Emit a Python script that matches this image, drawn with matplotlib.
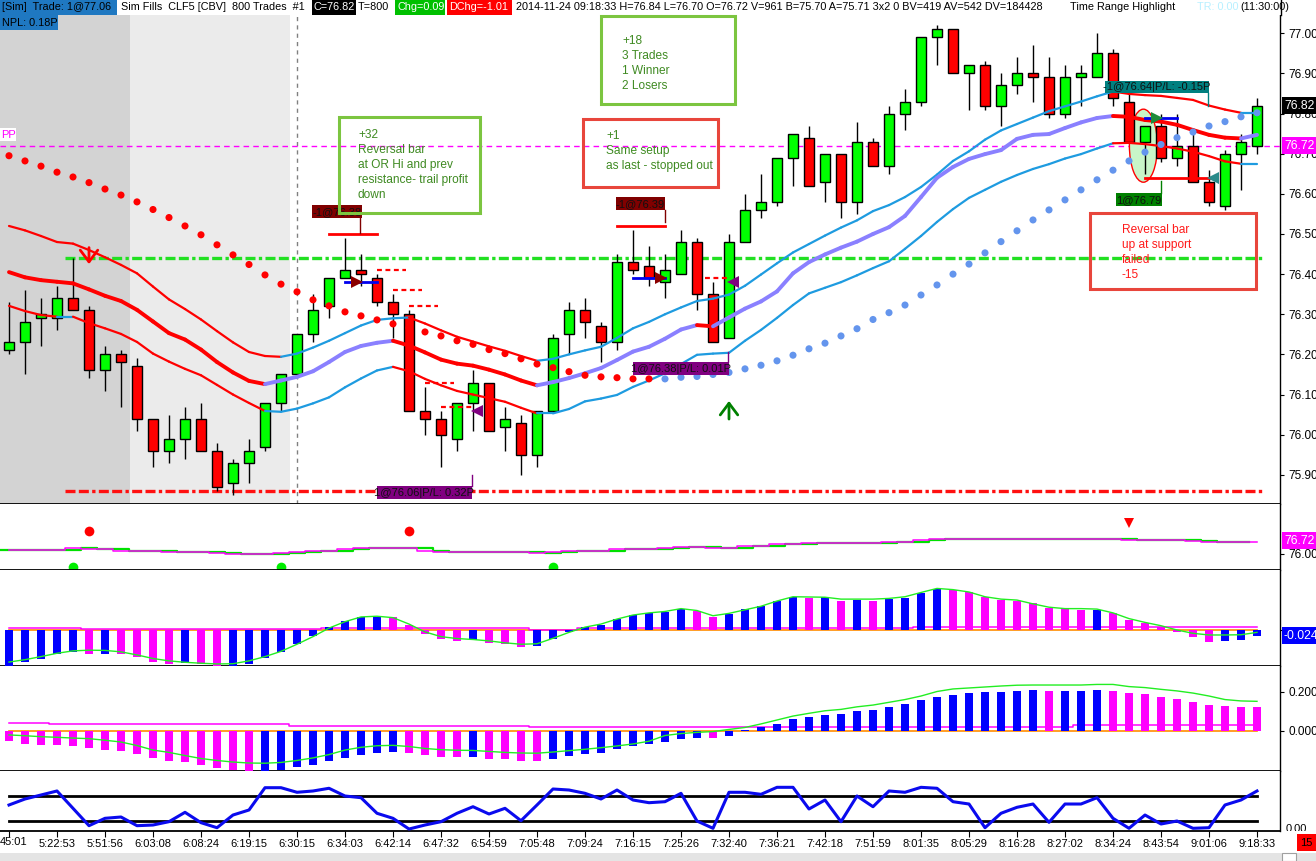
import matplotlib
matplotlib.use("Agg")
import matplotlib.pyplot as plt
from matplotlib.patches import Rectangle, Ellipse
from matplotlib.collections import LineCollection
from matplotlib.lines import Line2D
import matplotlib.transforms as mtransforms

plt.rcParams['font.family'] = ['Liberation Sans', 'DejaVu Sans']

# ---------------- DATA ----------------
opens = [76.21,76.23,76.29,76.29,76.34,76.31,76.16,76.20,76.17,76.04,
         75.96,75.99,76.04,75.96,75.88,75.93,75.97,76.08,76.15,76.25,
         76.32,76.39,76.41,76.39,76.33,76.30,76.06,76.04,75.99,76.08,
         76.13,76.02,76.03,75.95,76.06,76.25,76.31,76.27,76.23,76.43,
         76.42,76.38,76.40,76.48,76.35,76.24,76.48,76.56,76.58,76.69,
         76.74,76.63,76.70,76.58,76.73,76.67,76.80,76.83,76.99,77.01,
         76.90,76.92,76.82,76.87,76.90,76.89,76.80,76.89,76.89,76.95,
         76.83,76.73,76.77,76.69,76.72,76.63,76.57,76.70,76.72]
highs = [76.33,76.36,76.34,76.37,76.44,76.32,76.22,76.21,76.19,76.04,
         76.05,76.07,76.08,75.98,75.94,75.99,76.08,76.15,76.25,76.35,
         76.39,76.49,76.45,76.40,76.35,76.31,76.12,76.06,76.08,76.16,
         76.13,76.07,76.05,76.06,76.25,76.33,76.34,76.28,76.45,76.51,
         76.47,76.45,76.51,76.49,76.38,76.50,76.60,76.65,76.69,76.75,
         76.77,76.70,76.70,76.78,76.74,76.82,76.86,76.99,77.02,77.01,
         76.92,76.93,76.90,76.94,76.97,76.94,76.92,76.92,77.00,76.96,
         76.85,76.77,76.80,76.80,76.76,76.66,76.71,76.75,76.84]
lows = [76.20,76.15,76.22,76.26,76.31,76.14,76.11,76.07,76.01,75.92,
        75.93,75.94,75.96,75.86,75.85,75.88,75.96,76.06,76.15,76.23,
        76.29,76.39,76.37,76.32,76.24,76.06,76.00,75.92,75.96,76.01,
        76.01,75.96,75.90,75.92,76.06,76.20,76.24,76.18,76.21,76.40,
        76.37,76.34,76.40,76.31,76.23,76.24,76.48,76.54,76.57,76.62,
        76.62,76.58,76.54,76.55,76.67,76.65,76.76,76.82,76.92,76.90,
        76.81,76.81,76.77,76.85,76.83,76.79,76.79,76.82,76.89,76.82,
        76.73,76.65,76.68,76.67,76.63,76.57,76.56,76.61,76.70]
closes = [76.23,76.28,76.30,76.34,76.31,76.16,76.20,76.18,76.04,75.96,
          75.99,76.04,75.96,75.87,75.93,75.96,76.08,76.15,76.25,76.31,
          76.39,76.41,76.40,76.33,76.30,76.06,76.04,76.00,76.08,76.13,
          76.01,76.04,75.95,76.06,76.24,76.31,76.28,76.23,76.43,76.41,
          76.39,76.41,76.48,76.35,76.23,76.48,76.56,76.58,76.69,76.75,
          76.62,76.70,76.58,76.73,76.67,76.80,76.83,76.99,77.01,76.90,
          76.92,76.82,76.87,76.90,76.89,76.80,76.89,76.90,76.95,76.84,
          76.73,76.77,76.69,76.72,76.63,76.58,76.70,76.73,76.82]

first_time_label = "45:01"
time_labels = ["", "5:22:53","5:51:56","6:03:08","6:08:24","6:19:15","6:30:15",
               "6:34:03","6:42:14","6:47:32","6:54:59","7:05:48","7:09:24","7:16:15",
               "7:25:26","7:32:40","7:36:21","7:42:18","7:51:59","8:01:35","8:05:29",
               "8:16:28","8:27:02","8:34:24","8:43:54","9:01:06","9:18:33"]
price_ticks = [75.90,76.00,76.10,76.20,76.30,76.40,76.50,76.60,76.70,76.80,76.90,77.00]

band_upper = [76.520,76.509,76.495,76.480,76.476,76.460,76.442,76.423,76.402,76.369,
              76.337,76.313,76.287,76.258,76.230,76.206,76.196,76.194,76.202,76.217,
              76.234,76.253,76.272,76.286,76.290,76.292,76.277,76.260,76.244,76.232,
              76.220,76.209,76.196,76.184,76.189,76.200,76.210,76.219,76.241,76.265,
              76.281,76.300,76.317,76.333,76.339,76.349,76.371,76.399,76.427,76.454,
              76.475,76.496,76.516,76.534,76.557,76.572,76.592,76.617,76.648,76.682,
              76.706,76.735,76.758,76.774,76.790,76.806,76.818,76.830,76.843,76.855,
              76.849,76.846,76.844,76.839,76.834,76.820,76.810,76.802,76.802]
band_mid = [76.405,76.392,76.385,76.381,76.377,76.362,76.346,76.333,76.311,76.282,
            76.253,76.237,76.212,76.181,76.155,76.134,76.126,76.135,76.144,76.158,
            76.181,76.206,76.221,76.229,76.234,76.222,76.205,76.187,76.177,76.172,
            76.162,76.150,76.135,76.123,76.131,76.141,76.153,76.166,76.186,76.207,
            76.219,76.239,76.262,76.273,76.270,76.292,76.314,76.332,76.357,76.402,
            76.430,76.449,76.466,76.481,76.500,76.517,76.545,76.592,76.640,76.667,
            76.687,76.699,76.709,76.737,76.747,76.749,76.764,76.778,76.789,76.794,
            76.792,76.784,76.780,76.772,76.759,76.747,76.740,76.738,76.747]
band_lower = [76.321,76.308,76.298,76.294,76.294,76.278,76.265,76.251,76.231,76.202,
              76.182,76.164,76.148,76.124,76.100,76.079,76.059,76.057,76.065,76.078,
              76.093,76.118,76.140,76.160,76.169,76.158,76.139,76.123,76.109,76.100,
              76.091,76.082,76.067,76.053,76.053,76.064,76.083,76.090,76.099,76.119,
              76.135,76.153,76.176,76.199,76.202,76.204,76.234,76.261,76.291,76.323,
              76.352,76.366,76.380,76.397,76.415,76.432,76.463,76.495,76.530,76.562,
              76.590,76.610,76.630,76.647,76.662,76.674,76.688,76.699,76.713,76.726,
              76.727,76.724,76.719,76.713,76.705,76.694,76.681,76.675,76.675]
trend_upper = "d"*17 + "u"*8 + "d"*8 + "u"*36 + "d"*8 + "u"
trend_mid = "d"*16 + "u"*8 + "d"*9 + "u"*10 + "d" + "u"*25 + "d"*8 + "u"
trend_lower = "d"*3 + "u" + "d"*12 + "u"*8 + "d"*9 + "u"*36 + "d"*8 + "u"

sar = [76.695,76.682,76.669,76.654,76.642,76.628,76.612,76.597,76.580,76.561,
       76.541,76.520,76.498,76.473,76.448,76.424,76.398,76.375,76.356,76.336,
       76.321,76.306,76.296,76.286,76.276,76.266,76.256,76.246,76.234,76.225,
       76.212,76.202,76.189,76.176,76.167,76.157,76.148,76.144,76.142,76.139,
       76.139,76.139,76.143,76.145,76.150,76.155,76.164,76.173,76.184,76.198,
       76.214,76.228,76.246,76.264,76.287,76.304,76.323,76.348,76.373,76.400,
       76.425,76.453,76.481,76.508,76.535,76.560,76.585,76.610,76.635,76.659,
       76.682,76.704,76.723,76.740,76.754,76.769,76.780,76.792,76.802]
sar_side = "d"*41 + "u"*38

pp_level = 76.72
or_high = 76.44
or_low = 75.86
or_start, or_end = 3.5, 78.4
last_price = 76.82

# trades
entry_idx = [22, 41, 72]
entry_price = [76.38, 76.39, 76.79]
entry_line_from = [21, 39, 71]
entry_line_to = [23, 41, 73]
entry_color = ['#8b0000', '#8b0000', '#1f8a3a']
exit_idx = [29, 45, 75]
exit_price = [76.06, 76.38, 76.64]
exit_color = ['#800080', '#800080', '#2a8a8a']
stop_price = [76.50, 76.52, 76.64]
stop_from = [20, 38, 71]
stop_to = [23, 41, 75]
trail_from = [23, 24, 25, 26, 27, 43.5]
trail_to = [24.8, 25.8, 26.8, 27.8, 29.0, 44.9]
trail_price = [76.41, 76.36, 76.32, 76.13, 76.07, 76.39]
signal_idx = [5, 45]
signal_tail = [76.473, 76.032]
signal_head = [76.418, 76.091]
signal_color = ['red', '#008000']

# panel 2
p2_line = [76.24,76.24,76.24,76.24,76.31,76.25,76.25,76.18,76.18,76.14,
           76.09,76.09,76.09,76.04,75.98,75.98,76.01,76.04,76.12,76.18,
           76.18,76.27,76.34,76.34,76.34,76.30,76.18,76.12,76.12,76.12,
           76.09,76.09,76.09,76.04,76.09,76.18,76.18,76.18,76.29,76.29,
           76.29,76.32,76.40,76.40,76.35,76.35,76.42,76.42,76.52,76.52,
           76.61,76.61,76.61,76.61,76.61,76.67,76.67,76.76,76.83,76.83,
           76.83,76.83,76.83,76.83,76.83,76.83,76.83,76.83,76.83,76.83,
           76.77,76.74,76.74,76.74,76.70,76.66,76.66,76.66,76.66]
p2_red_dots = [5, 25]
p2_red_level = 77.24
p2_green_dots = [4, 17, 34]
p2_green_level = 75.30
p2_triangles = [70]
p2_tri_level = 77.69

# panel 3
h3 = [-0.150,-0.135,-0.122,-0.100,-0.093,-0.101,-0.101,-0.101,-0.112,-0.135,
      -0.143,-0.139,-0.143,-0.150,-0.150,-0.143,-0.117,-0.093,-0.059,-0.025,
      0.014,0.039,0.056,0.056,0.053,0.021,-0.016,-0.038,-0.046,-0.042,
      -0.053,-0.058,-0.070,-0.067,-0.038,-0.010,0.014,0.022,0.048,0.063,
      0.072,0.077,0.090,0.080,0.056,0.069,0.088,0.101,0.122,0.139,
      0.136,0.140,0.123,0.128,0.123,0.132,0.136,0.156,0.173,0.167,
      0.161,0.139,0.128,0.123,0.115,0.094,0.088,0.085,0.085,0.072,
      0.042,0.029,0.013,-0.007,-0.028,-0.051,-0.045,-0.041,-0.024]
h3_col = ("b"*5 + "m" + "b" + "m"*4 + "b" + "m"*2 + "b"*10 + "m"*5 + "b" + "m"*3 +
          "b"*10 + "m"*2 + "b"*5 + "mbmbm" + "b"*4 + "m"*9 + "b" + "m"*7 + "b"*3)
g3 = [-0.135,-0.125,-0.112,-0.098,-0.088,-0.085,-0.086,-0.092,-0.105,-0.120,
      -0.130,-0.136,-0.140,-0.143,-0.142,-0.130,-0.112,-0.090,-0.060,-0.028,
      0.008,0.035,0.055,0.058,0.052,0.025,-0.008,-0.028,-0.036,-0.040,
      -0.046,-0.054,-0.060,-0.058,-0.035,-0.010,0.012,0.025,0.046,0.063,
      0.072,0.078,0.090,0.082,0.060,0.070,0.085,0.100,0.122,0.140,
      0.139,0.138,0.130,0.130,0.130,0.133,0.140,0.158,0.175,0.170,
      0.160,0.140,0.130,0.126,0.110,0.096,0.090,0.090,0.088,0.072,
      0.048,0.032,0.018,0.000,-0.014,-0.021,-0.021,-0.020,-0.010]
s3 = [0.010]*5 + [0.005]*15 + [0.008]*13 + [0.001]*3 + [0.007]*5 + [0.008]*16 + [0.011]*22

# panel 4
h4 = [-0.053,-0.064,-0.070,-0.070,-0.075,-0.085,-0.095,-0.100,-0.116,-0.136,
      -0.151,-0.156,-0.171,-0.187,-0.197,-0.204,-0.204,-0.197,-0.182,-0.171,
      -0.151,-0.136,-0.121,-0.110,-0.105,-0.110,-0.121,-0.131,-0.131,-0.131,
      -0.141,-0.141,-0.151,-0.151,-0.141,-0.126,-0.116,-0.110,-0.090,-0.075,
      -0.064,-0.054,-0.039,-0.034,-0.034,-0.024,0.005,0.020,0.036,0.061,
      0.071,0.081,0.087,0.102,0.107,0.122,0.137,0.158,0.173,0.183,
      0.193,0.198,0.198,0.204,0.209,0.204,0.204,0.204,0.209,0.204,
      0.193,0.188,0.173,0.163,0.148,0.132,0.127,0.122,0.122]
h4_col = "m"*16 + "b"*9 + "m"*4 + "b" + "m"*4 + "b"*10 + "m" + "b"*20 + "m" + "b"*3 + "m"*10
g4 = [-0.020,-0.024,-0.029,-0.032,-0.036,-0.039,-0.047,-0.056,-0.074,-0.097,
      -0.109,-0.125,-0.140,-0.150,-0.158,-0.163,-0.164,-0.160,-0.150,-0.137,
      -0.120,-0.097,-0.083,-0.075,-0.073,-0.079,-0.089,-0.095,-0.098,-0.099,
      -0.104,-0.109,-0.112,-0.113,-0.107,-0.100,-0.093,-0.085,-0.076,-0.066,
      -0.052,-0.023,-0.013,-0.007,-0.003,0.008,0.018,0.036,0.056,0.076,
      0.090,0.103,0.110,0.123,0.132,0.146,0.160,0.178,0.201,0.214,
      0.219,0.224,0.229,0.233,0.234,0.234,0.234,0.234,0.237,0.237,
      0.226,0.221,0.212,0.204,0.193,0.178,0.160,0.153,0.151]
s4 = [0.041]*3 + [0.034]*15 + [0.027]*15 + [0.022]*34 + [0.030]*12

# panel 5
osc = [57.9,72.1,81.6,91.1,50.0,8.8,26.3,29.4,8.8,10.4,
       18.3,40.5,15.9,4.0,34.1,46.0,98.9,98.9,88.0,91.1,
       97.5,79.2,75.2,38.2,26.3,0.9,10.4,18.3,38.2,53.8,
       36.5,50.0,20.6,57.9,95.8,93.4,85.6,72.1,93.4,69.7,
       63.3,65.7,85.6,19.9,2.6,88.0,88.0,83.2,99.8,99.8,
       48.4,69.7,18.3,79.2,53.8,91.1,88.0,99.8,97.5,65.7,
       60.2,4.0,38.2,52.4,60.2,16.8,60.2,60.2,75.2,26.3,
       2.6,34.1,12.8,19.9,2.6,4.0,57.9,69.7,91.1]
osc_levels = [80, 20]

# ---------------- FIGURE ----------------
W, H = 1316, 861
fig = plt.figure(figsize=(W / 100, H / 100), dpi=100)
fig.patch.set_facecolor('white')

def fx(px): return px / W
def fy(py): return 1 - py / H

XMIN, XMAX = -0.5625, 79.4375
n = len(closes)
xs = list(range(n))
BLUE, MAG = '#0000ff', '#ff00ff'
FS = 8
TFS = 8.5

def panel(top, bottom):
    ax = fig.add_axes([0, fy(bottom), 1280 / W, (bottom - top) / H])
    ax.set_xlim(XMIN, XMAX)
    ax.set_facecolor('white')
    for s in ('left', 'top'):
        ax.spines[s].set_visible(False)
    ax.spines['right'].set_linewidth(1.0)
    ax.spines['bottom'].set_linewidth(1.3)
    ax.yaxis.tick_right()
    ax.tick_params(axis='y', direction='out', length=3, labelsize=TFS, pad=3)
    ax.tick_params(axis='x', bottom=False, labelbottom=False)
    return ax

def right_box(ax, y, text, fc, tc='white'):
    tr = mtransforms.blended_transform_factory(fig.transFigure, ax.transData)
    ax.text(fx(1284), y, text, transform=tr, ha='left', va='center', fontsize=TFS + 0.3,
            color=tc, clip_on=False, zorder=20,
            bbox=dict(boxstyle='square,pad=0.18', fc=fc, ec='none'))

# ---- main panel ----
ax = panel(15, 504)
ax.set_ylim(75.8273, 77.0456)
ax.set_yticks(price_ticks)
ax.set_yticklabels(['%.2f' % v for v in price_ticks])
ax.axvspan(XMIN, 7.5625, color='#d3d3d3', lw=0, zorder=0)
ax.axvspan(7.5625, 17.5625, color='#ebebeb', lw=0, zorder=0)
ax.axvline(18, color='#808080', lw=1, ls=(0, (3, 3)), zorder=1)
ax.axhline(pp_level, color='#ff00ff', lw=1, ls=(0, (4, 3)), zorder=2)
ax.plot([or_start, or_end], [or_high, or_high], color='#22e022', lw=2.4,
        ls=(0, (3, 1, 3, 1, 1, 1)), zorder=2)
ax.plot([or_start, or_end], [or_low, or_low], color='#ff1010', lw=2.4,
        ls=(0, (3, 1, 3, 1, 1, 1)), zorder=2)

# highlight ellipse
ax.add_patch(Ellipse((70.9, 76.72), 1.75, 0.182, fc='#c8f5c8', ec='red', lw=1, zorder=3))

# candles
for i in range(n):
    col = '#00ff00' if closes[i] >= opens[i] else '#ff0000'
    lo_b, hi_b = min(opens[i], closes[i]), max(opens[i], closes[i])
    ax.vlines(i, lows[i], highs[i], color='black', lw=1, zorder=5)
    ax.bar(i, max(hi_b - lo_b, 0.002), bottom=lo_b, width=0.6, color=col,
           edgecolor='black', linewidth=1, zorder=6)

# bands
def band(vals, trend, up_col, lw):
    segs = [[(k, vals[k]), (k + 1, vals[k + 1])] for k in range(n - 1)]
    cols = [up_col if t == 'u' else '#ff0000' for t in trend]
    ax.add_collection(LineCollection(segs, colors=cols, linewidths=lw, zorder=7,
                                     capstyle='round'))
band(band_upper, trend_upper, '#1e9be0', 1.6)
band(band_lower, trend_lower, '#1e9be0', 1.6)
band(band_mid, trend_mid, '#8a80ff', 2.8)

# SAR dots
sar_cols = ['#ff0000' if s == 'd' else '#6495ed' for s in sar_side]
ax.scatter(xs, sar, s=26, c=sar_cols, zorder=8, linewidths=0)

# trade lines / markers
for k in range(len(entry_idx)):
    ax.plot([stop_from[k], stop_to[k]], [stop_price[k]] * 2, color='#ff0000', lw=2, zorder=9)
    ax.plot([entry_line_from[k], entry_line_to[k]], [entry_price[k]] * 2, color='#0000ee',
            lw=2, zorder=9)
    ax.plot(entry_idx[k] - 0.22, entry_price[k], marker='>', ms=8, color=entry_color[k],
            zorder=10, mew=0)
    ax.plot(exit_idx[k] + 0.22, exit_price[k], marker='<', ms=8, color=exit_color[k],
            zorder=10, mew=0)
for a, b, p in zip(trail_from, trail_to, trail_price):
    ax.plot([a, b], [p, p], color='#ff0000', lw=1.6, ls=(0, (2.2, 1.6)), zorder=9)
for i, t, h, c in zip(signal_idx, signal_tail, signal_head, signal_color):
    ax.annotate('', xy=(i, h), xytext=(i, t),
                arrowprops=dict(arrowstyle='->,head_width=0.45,head_length=0.6',
                                color=c, lw=2, mutation_scale=14), zorder=10)

right_box(ax, pp_level, '%.2f' % pp_level, '#ff00ff')
right_box(ax, last_price, '%.2f' % last_price, 'black')

# ---- panel 2 ----
ax2 = panel(504, 570)
ax2.set_ylim(75.135, 78.703)
ax2.set_yticks([76.0])
ax2.set_yticklabels(['76.00'])
p2_prev = [p2_line[0]] + p2_line[:-1]
ax2.plot([x - 0.5 for x in xs], p2_prev, drawstyle='steps-post', color='#00e000', lw=1.6)
ax2.plot(xs, p2_line, drawstyle='steps-mid', color='#ff00ff', lw=1.1)
ax2.plot(p2_red_dots, [p2_red_level] * len(p2_red_dots), 'o', color='#ff0000', ms=7, mew=0)
ax2.plot(p2_green_dots, [p2_green_level] * len(p2_green_dots), 'o', color='#00ee00', ms=7, mew=0)
ax2.plot(p2_triangles, [p2_tri_level] * len(p2_triangles), 'v', color='#ff0000', ms=7, mew=0)
right_box(ax2, pp_level, '%.2f' % pp_level, '#ff00ff')

# ---- panel 3 ----
ax3 = panel(570, 666)
ax3.set_ylim(-0.1516, 0.2526)
ax3.set_yticks([0.0])
ax3.set_yticklabels([''])
ax3.plot([0, n - 1], [0, 0], color='#ff8c00', lw=1.2, zorder=2)
ax3.plot(xs, s3, drawstyle='steps-mid', color='#ff00ff', lw=1.1, zorder=2)
ax3.bar(xs, h3, width=0.5, color=[BLUE if c == 'b' else MAG for c in h3_col], zorder=3)
ax3.plot(xs, g3, color='#22ee22', lw=1, zorder=4)
right_box(ax3, h3[-1], '%.3f' % h3[-1], '#0000ff')

# ---- panel 4 ----
ax4 = panel(666, 771)
ax4.set_ylim(-0.2036, 0.3308)
ax4.set_yticks([0.0, 0.2])
ax4.set_yticklabels(['0.000', '0.200'])
ax4.plot([0, n - 1], [0, 0], color='#ff8c00', lw=1.2, zorder=2)
ax4.plot(xs, s4, drawstyle='steps-mid', color='#ff00ff', lw=1.1, zorder=2)
ax4.bar(xs, h4, width=0.5, color=[BLUE if c == 'b' else MAG for c in h4_col], zorder=3)
ax4.plot(xs, g4, color='#22ee22', lw=1, zorder=4)

# ---- panel 5 ----
ax5 = panel(771, 831)
ax5.set_ylim(-3.8, 138.5)
ax5.set_yticks([])
for lv in osc_levels:
    ax5.plot([0, n - 1], [lv, lv], color='black', lw=2, zorder=2)
ax5.plot(xs, osc, color='#0a0aee', lw=2.2, zorder=3)
ax5.set_xticks(list(range(0, n, 3)))
ax5.set_xticklabels(time_labels)
ax5.tick_params(axis='x', bottom=True, labelbottom=True, length=4, labelsize=FS, pad=2)
t0 = fig.text(fx(1286), fy(829), '0.00', fontsize=FS, va='center', ha='left')
t0.set_clip_box(mtransforms.TransformedBbox(
    mtransforms.Bbox([[fx(1281), fy(831)], [1, fy(771)]]), fig.transFigure))
t0.set_clip_on(True)

# ---------------- FIGURE-LEVEL DECORATION ----------------
def frect(x0, y0, x1, y1, z=5, **kw):
    fig.add_artist(Rectangle((fx(x0), fy(y1)), (x1 - x0) / W, (y1 - y0) / H,
                             transform=fig.transFigure, zorder=z, **kw))

def ftext(x, y, s, z=6, **kw):
    kw.setdefault('fontsize', FS)
    kw.setdefault('va', 'center')
    fig.text(fx(x), fy(y), s, zorder=z, **kw)

def fline(xs_, ys_, z=5, **kw):
    fig.add_artist(Line2D([fx(v) for v in xs_], [fy(v) for v in ys_],
                          transform=fig.transFigure, zorder=z, **kw))

# first (clipped) time label
ftext(0, 842, first_time_label, ha='left')

# header
HFS = 7.8
frect(0, 0, 1316, 15, z=4, fc='white', ec='none')
frect(0, 0, 117, 15, fc='#1f78c1', ec='none')
ftext(2, 7.5, '[Sim]  Trade: 1@77.06', fontsize=HFS)
ftext(121, 7.5, 'Sim Fills  CLF5 [CBV]  800 Trades  #1', fontsize=HFS)
frect(312, 0, 356, 15, fc='black', ec='none')
ftext(313, 7.5, 'C=76.82', color='white', fontsize=HFS)
ftext(358, 7.5, 'T=800', fontsize=HFS)
frect(395, 0, 445, 15, fc='#00c000', ec='none')
ftext(397, 7.5, 'Chg=0.09', color='white', fontsize=HFS)
frect(447, 0, 512, 15, fc='#ff0000', ec='none')
ftext(449, 7.5, 'DChg=-1.01', color='white', fontsize=HFS)
ftext(516, 7.5, '2014-11-24 09:18:33 H=76.84 L=76.70 O=76.72 V=961 B=75.70 A=75.71 '
      '3x2 0 BV=419 AV=542 DV=184428', fontsize=HFS)
ftext(1070, 7.5, 'Time Range Highlight', fontsize=HFS)
ftext(1197, 7.5, 'TR: 0.00', color='#b8f0ff', fontsize=HFS)
ftext(1240, 7.5, '(11:30:00)', fontsize=HFS)
frect(0, 15, 58, 30, fc='#1f78c1', ec='none')
ftext(2, 22.5, 'NPL: 0.18P', fontsize=HFS)
fline([1281, 1281], [0, 15], color='black', lw=1)

# PP label
frect(0, 128, 16, 141, fc='white', ec='none')
ftext(1, 134.5, 'PP', color='#ff00ff')

# trade labels
def tlabel(x0, y0, x1, y1, s, fc, stem):
    frect(x0, y0, x1, y1, z=7, fc=fc, ec='none')
    ftext((x0 + x1) / 2, (y0 + y1) / 2 + 0.5, s, z=8, ha='center', color='#101010')
    fline([stem[0], stem[0]], [stem[1], stem[2]], z=7, color=fc, lw=1)

tlabel(312, 205, 362, 218, '-1@76.38', '#800000', (360, 218, 233))
tlabel(377, 486, 472, 499, '1@76.06|P/L: 0.32P', '#800080', (472, 475, 486))
tlabel(616, 197, 665, 210, '-1@76.39', '#800000', (665, 210, 222))
tlabel(633, 362, 729, 375, '1@76.38|P/L: 0.01P', '#800080', (728, 352, 362))
tlabel(1116, 193, 1162, 206, '1@76.79', '#008000', (1161, 181, 193))
tlabel(1105, 81, 1209, 93, '-1@76.64|P/L: -0.15P', '#008080', (1208, 93, 106))

# annotation boxes
GREEN_EDGE, RED_EDGE = '#7cc540', '#e8463c'
NOTE_GREEN = '#3f8a22'
def note(x0, y0, x1, y1, edge, lines, tx, ty, tc):
    frect(x0, y0, x1, y1, z=9, fill=False, ec=edge, lw=2.2)
    for j, s in enumerate(lines):
        ftext(tx, ty + 15 * j, s, z=10, color=tc, fontsize=8.6, ha='left')

note(339, 117, 480, 213, GREEN_EDGE,
     ['+32', 'Reversal bar', 'at OR Hi and prev', 'resistance- trail profit', 'down'],
     358, 134.7, NOTE_GREEN)
note(601, 16, 735, 104, GREEN_EDGE,
     ['+18', '3 Trades', '1 Winner', '2 Losers'], 622, 41, NOTE_GREEN)
note(583, 119, 718, 187, RED_EDGE,
     ['+1', 'Same setup', 'as last - stopped out'], 606, 135.7, NOTE_GREEN)
note(1090, 213, 1256, 289, RED_EDGE,
     ['Reversal bar', 'up at support', 'failed', '-15'], 1122, 230, '#ff1a1a')

# bottom-right box and scroll bar
frect(1297, 834, 1316, 851, fc='#ff0000', ec='none')
ftext(1300, 842.5, '15')
frect(0, 853, 1316, 861, fc='#e4e4e4', ec='none')
frect(1282, 853, 1296, 861, fc='white', ec='#a0a0a0', lw=0.8)

fig.savefig('out.png', dpi=100, facecolor='white')
